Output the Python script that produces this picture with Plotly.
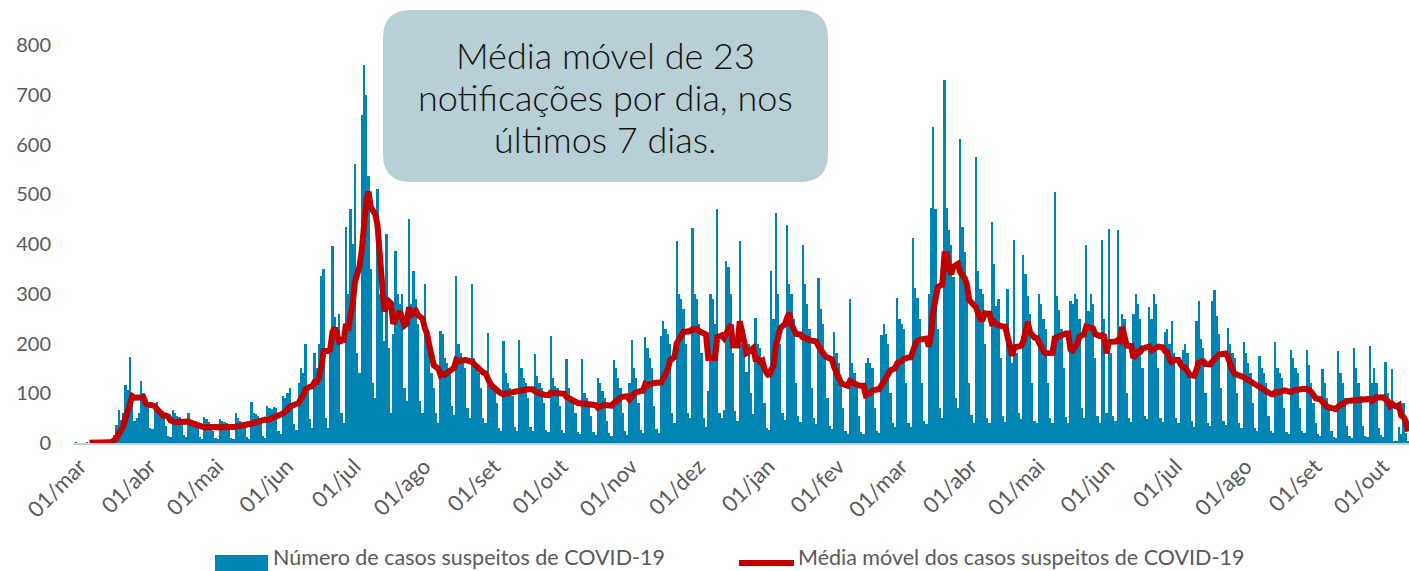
import pandas as pd
import plotly.graph_objects as go

# ---------------- data (daily suspected cases) ----------------
casos_fev_2020 = [2, 0, 0, 0]
casos_mar_2020 = [0, 1, 0, 1, 1, 0, 1, 2, 1, 0, 2, 3, 8, 16, 36, 66, 46, 60, 117, 107,
                  172, 90, 45, 50, 60, 125, 100, 85, 80, 30, 28]
casos_abr_2020 = [70, 82, 65, 55, 50, 35, 15, 13, 67, 60, 55, 52, 45, 17, 12, 60, 45, 40, 36, 30,
                  12, 8, 52, 48, 42, 38, 25, 11, 8, 48]
casos_mai_2020 = [45, 42, 40, 30, 11, 8, 60, 50, 45, 42, 35, 12, 8, 82, 60, 58, 55, 48, 15, 11,
                  75, 70, 68, 72, 70, 25, 19, 95, 90, 100, 110]
casos_jun_2020 = [80, 38, 26, 120, 150, 140, 200, 110, 48, 30, 180, 150, 200, 335, 350, 50, 30,
                  205, 395, 253, 233, 260, 60, 40, 435, 300, 470, 400, 560, 180]
casos_jul_2020 = [140, 660, 760, 700, 536, 350, 120, 90, 510, 300, 280, 205, 420, 190, 60,
                  220, 385, 300, 280, 300, 110, 85, 450, 280, 345, 290, 240, 85, 60, 320, 200]
casos_ago_2020 = [180, 140, 110, 60, 40, 225, 220, 170, 160, 150, 75, 57, 335, 200, 180, 170,
                  150, 70, 50, 320, 170, 150, 140, 110, 50, 40, 221, 130, 110, 105, 80]
casos_set_2020 = [30, 24, 205, 140, 120, 110, 95, 33, 25, 208, 150, 130, 120, 90, 33, 25,
                  178, 135, 120, 110, 80, 27, 22, 215, 130, 115, 110, 75, 27, 21]
casos_out_2020 = [169, 110, 95, 85, 60, 23, 18, 168, 100, 90, 80, 55, 22, 17, 131, 120, 105, 90,
                  45, 20, 14, 166, 150, 130, 110, 60, 25, 17, 120, 208, 150]
casos_nov_2020 = [130, 80, 27, 20, 213, 190, 170, 150, 75, 28, 21, 215, 246, 230, 220, 200, 60,
                  40, 406, 300, 289, 270, 200, 60, 50, 433, 300, 290, 240, 180]
casos_dez_2020 = [50, 33, 104, 300, 290, 240, 471, 60, 50, 66, 366, 353, 300, 180, 64, 45,
                  406, 199, 230, 143, 200, 100, 59, 252, 200, 190, 160, 80, 30, 26, 346]
casos_jan_2021 = [250, 463, 300, 200, 60, 47, 439, 320, 300, 250, 120, 55, 42, 399, 320, 280,
                  230, 110, 50, 39, 332, 270, 240, 180, 90, 35, 29, 223, 180, 160, 130]
casos_fev_2021 = [70, 24, 18, 290, 160, 140, 120, 55, 22, 18, 161, 170, 160, 150, 70, 25, 20,
                  218, 240, 220, 200, 100, 40, 32, 291, 250, 240, 230]
casos_mar_2021 = [120, 40, 33, 413, 312, 292, 250, 120, 45, 38, 300, 472, 635, 470, 230, 70, 50,
                  730, 472, 428, 397, 333, 90, 70, 611, 435, 384, 300, 120, 56, 40]
casos_abr_2021 = [574, 346, 309, 300, 200, 51, 40, 445, 360, 275, 290, 170, 55, 43, 309, 200,
                  160, 408, 180, 60, 48, 377, 340, 295, 260, 120, 45, 40, 299, 279]
casos_mai_2021 = [250, 230, 120, 50, 40, 505, 295, 268, 230, 150, 52, 40, 285, 280, 300, 290,
                  250, 70, 51, 397, 265, 299, 280, 170, 54, 40, 408, 250, 60, 431, 180]
casos_jun_2021 = [55, 44, 428, 234, 260, 250, 100, 50, 43, 260, 300, 280, 250, 150, 55, 49,
                  273, 249, 300, 280, 150, 50, 42, 224, 230, 200, 245, 180, 50, 40]
casos_jul_2021 = [160, 187, 200, 180, 140, 45, 33, 246, 285, 210, 190, 100, 40, 35, 285, 307,
                  256, 220, 110, 45, 37, 231, 200, 180, 170, 100, 40, 31, 204, 180, 160]
casos_ago_2021 = [140, 80, 30, 25, 175, 150, 140, 120, 55, 25, 21, 204, 150, 140, 130, 70, 23,
                  18, 187, 170, 150, 140, 70, 25, 21, 187, 156, 120, 80, 40, 18]
casos_set_2021 = [15, 149, 120, 90, 70, 25, 12, 10, 185, 140, 120, 90, 35, 14, 11, 190, 150, 120,
                  95, 35, 14, 12, 194, 121, 150, 120, 30, 16, 13, 163]
casos_out_2021 = [100, 80, 149, 3, 3, 32, 19, 80, 20, 4]

inicio_meses = ["2020-02-26", "2020-03-01", "2020-04-01", "2020-05-01", "2020-06-01",
                "2020-07-01", "2020-08-01", "2020-09-01", "2020-10-01", "2020-11-01",
                "2020-12-01", "2021-01-01", "2021-02-01", "2021-03-01", "2021-04-01",
                "2021-05-01", "2021-06-01", "2021-07-01", "2021-08-01", "2021-09-01",
                "2021-10-01"]
series_meses = [casos_fev_2020, casos_mar_2020, casos_abr_2020, casos_mai_2020, casos_jun_2020,
                casos_jul_2020, casos_ago_2020, casos_set_2020, casos_out_2020, casos_nov_2020,
                casos_dez_2020, casos_jan_2021, casos_fev_2021, casos_mar_2021, casos_abr_2021,
                casos_mai_2021, casos_jun_2021, casos_jul_2021, casos_ago_2021, casos_set_2021,
                casos_out_2021]

tick_datas = ["2020-03-01", "2020-04-01", "2020-05-01", "2020-06-01", "2020-07-01",
              "2020-08-01", "2020-09-01", "2020-10-01", "2020-11-01", "2020-12-01",
              "2021-01-01", "2021-02-01", "2021-03-01", "2021-04-01", "2021-05-01",
              "2021-06-01", "2021-07-01", "2021-08-01", "2021-09-01", "2021-10-01"]
tick_rotulos = ["01/mar", "01/abr", "01/mai", "01/jun", "01/jul", "01/ago", "01/set", "01/out",
                "01/nov", "01/dez", "01/jan", "01/fev", "01/mar", "01/abr", "01/mai", "01/jun",
                "01/jul", "01/ago", "01/set", "01/out"]
y_ticks = [0, 100, 200, 300, 400, 500, 600, 700, 800]

nome_barras = "Número de casos suspeitos de COVID-19"
nome_linha = "Média móvel dos casos suspeitos de COVID-19"
linhas_caixa = ["Média móvel de 23", "notificações por dia, nos", "últimos 7 dias."]

# ---------------- build series ----------------
datas, valores = [], []
for ini, vals in zip(inicio_meses, series_meses):
    datas += list(pd.date_range(ini, periods=len(vals), freq="D"))
    valores += vals
serie = pd.Series(valores, index=pd.DatetimeIndex(datas))
media_movel = serie.rolling(7).mean()

# ---------------- layout geometry (pixels) ----------------
W, H = 1409, 571
L, R, T, B = 74, 0, 20, 128
PW, PH = W - L - R, H - T - B
PX_PER_DAY = 2.25
X_MAR1 = 85
x_start = pd.Timestamp("2020-03-01") - pd.Timedelta(days=(X_MAR1 - L) / PX_PER_DAY)
x_end = x_start + pd.Timedelta(days=PW / PX_PER_DAY)
Y_TOP = PH / ((443 - 45) / 800)


def pxx(xp):
    return (xp - L) / PW


def pxy(yp):
    return (H - B - yp) / PH


FONT = "Lato"
GRAY = "#595959"
BLUE = "#0084B4"
RED = "#C00000"

fig = go.Figure()
fig.add_trace(go.Bar(x=serie.index, y=serie.values, name=nome_barras,
                     marker=dict(color=BLUE, line=dict(width=0)), showlegend=False))
fig.add_trace(go.Scatter(x=media_movel.index, y=media_movel.values, name=nome_linha,
                         mode="lines", line=dict(color=RED, width=6),
                         showlegend=False))

# rounded annotation box
bx0, bx1, by0, by1, r = 383, 828, 10, 182, 28
rx, ry = r / PW, r / PH
X0, X1, Y0, Y1 = pxx(bx0), pxx(bx1), pxy(by1), pxy(by0)
path = (f"M {X0+rx},{Y1} L {X1-rx},{Y1} Q {X1},{Y1} {X1},{Y1-ry} "
        f"L {X1},{Y0+ry} Q {X1},{Y0} {X1-rx},{Y0} L {X0+rx},{Y0} "
        f"Q {X0},{Y0} {X0},{Y0+ry} L {X0},{Y1-ry} Q {X0},{Y1} {X0+rx},{Y1} Z")
shapes = [dict(type="path", xref="paper", yref="paper", path=path,
               fillcolor="#B7CFD5", line=dict(width=0), layer="above")]

# custom legend
shapes.append(dict(type="rect", xref="paper", yref="paper", x0=pxx(215), x1=pxx(268),
                   y0=pxy(575), y1=pxy(555), fillcolor=BLUE, line=dict(width=0)))
shapes.append(dict(type="line", xref="paper", yref="paper", x0=pxx(739), x1=pxx(794),
                   y0=pxy(563), y1=pxy(563), line=dict(color=RED, width=6)))

annotations = []
for linha, yc in zip(linhas_caixa, [55, 97, 139]):
    annotations.append(dict(xref="paper", yref="paper", x=pxx(605), y=pxy(yc), text=linha,
                            showarrow=False, xanchor="center", yanchor="middle",
                            font=dict(family=FONT, size=36, color="#111111", weight=300)))
annotations += [
    dict(xref="paper", yref="paper", x=pxx(271), y=pxy(557), text=nome_barras,
         showarrow=False, xanchor="left", yanchor="middle",
         font=dict(family=FONT, size=21.5, color=GRAY)),
    dict(xref="paper", yref="paper", x=pxx(796), y=pxy(557), text=nome_linha,
         showarrow=False, xanchor="left", yanchor="middle",
         font=dict(family=FONT, size=21.5, color=GRAY)),
]

fig.update_layout(
    width=W, height=H, autosize=False,
    margin=dict(l=L, r=R, t=T, b=B, pad=0),
    plot_bgcolor="white", paper_bgcolor="white",
    bargap=0.0, showlegend=False,
    shapes=shapes, annotations=annotations,
    xaxis=dict(type="date", range=[x_start, x_end], tickvals=pd.to_datetime(tick_datas),
               ticktext=tick_rotulos, tickangle=-45, showgrid=False, zeroline=False,
               showline=True, linecolor="#BCD0D8", linewidth=2, ticks="",
               ticklabelshift=-5,
               tickfont=dict(family=FONT, size=22, color=GRAY)),
    yaxis=dict(range=[0, Y_TOP], tickvals=y_ticks, showgrid=False, zeroline=False,
               showline=False, ticks="", ticklabelstandoff=22,
               tickfont=dict(family=FONT, size=20, color=GRAY)),
)

fig.write_html("out.html", config={"displayModeBar": False},
               post_script="document.body.style.margin='0px';document.body.style.overflow='hidden';")
